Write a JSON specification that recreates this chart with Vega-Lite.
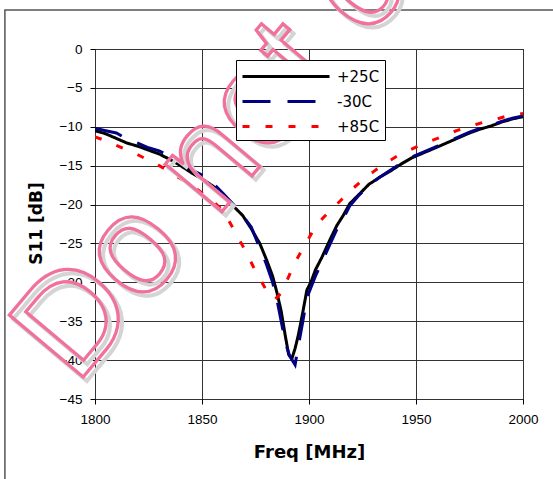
{
  "$schema": "https://vega.github.io/schema/vega-lite/v6.json",
  "width": 428,
  "height": 350,
  "autosize": "none",
  "padding": {"left": 95, "top": 49, "right": 30, "bottom": 80},
  "background": "white",
  "config": {"view": {"stroke": "#000000", "strokeWidth": 1}, "font": "Liberation Sans"},
  "resolve": {"axis": {"x": "independent", "y": "independent"}},
  "datasets": {
    "curves": [
      {"series":"+25C","f":1800,"s":-10.5},{"series":"+25C","f":1805,"s":-10.9},{"series":"+25C","f":1810,"s":-11.5},{"series":"+25C","f":1815,"s":-12.1},{"series":"+25C","f":1820,"s":-12.5},{"series":"+25C","f":1825,"s":-13.0},{"series":"+25C","f":1830,"s":-13.5},{"series":"+25C","f":1835,"s":-14.2},{"series":"+25C","f":1840,"s":-15.0},{"series":"+25C","f":1845,"s":-15.9},{"series":"+25C","f":1850,"s":-16.7},{"series":"+25C","f":1855,"s":-17.6},{"series":"+25C","f":1860,"s":-18.8},{"series":"+25C","f":1865,"s":-20.3},{"series":"+25C","f":1869,"s":-21.4},{"series":"+25C","f":1873,"s":-23.1},{"series":"+25C","f":1877,"s":-25.0},{"series":"+25C","f":1880,"s":-27.0},{"series":"+25C","f":1883,"s":-29.2},{"series":"+25C","f":1885,"s":-31.3},{"series":"+25C","f":1887,"s":-33.7},{"series":"+25C","f":1889,"s":-37.0},{"series":"+25C","f":1890.5,"s":-39.3},{"series":"+25C","f":1892,"s":-39.8},{"series":"+25C","f":1893.5,"s":-38.5},{"series":"+25C","f":1895,"s":-36.8},{"series":"+25C","f":1897,"s":-34.0},{"series":"+25C","f":1899,"s":-31.0},{"series":"+25C","f":1901,"s":-29.9},{"series":"+25C","f":1903,"s":-28.4},{"series":"+25C","f":1906,"s":-26.8},{"series":"+25C","f":1910,"s":-24.4},{"series":"+25C","f":1913,"s":-22.7},{"series":"+25C","f":1916,"s":-21.4},{"series":"+25C","f":1919,"s":-19.9},{"series":"+25C","f":1923,"s":-18.8},{"series":"+25C","f":1928,"s":-17.4},{"series":"+25C","f":1933,"s":-16.5},{"series":"+25C","f":1938,"s":-15.7},{"series":"+25C","f":1943,"s":-14.8},{"series":"+25C","f":1948,"s":-14.0},{"series":"+25C","f":1954,"s":-13.3},{"series":"+25C","f":1960,"s":-12.6},{"series":"+25C","f":1965,"s":-12.0},{"series":"+25C","f":1970,"s":-11.4},{"series":"+25C","f":1975,"s":-10.8},{"series":"+25C","f":1980,"s":-10.3},{"series":"+25C","f":1985,"s":-9.9},{"series":"+25C","f":1990,"s":-9.4},{"series":"+25C","f":1995,"s":-9.0},{"series":"+25C","f":2000,"s":-8.7},
      {"series":"-30C","f":1800,"s":-10.2},{"series":"-30C","f":1805,"s":-10.5},{"series":"-30C","f":1810,"s":-10.8},{"series":"-30C","f":1815,"s":-11.6},{"series":"-30C","f":1820,"s":-12.1},{"series":"-30C","f":1825,"s":-12.7},{"series":"-30C","f":1830,"s":-13.1},{"series":"-30C","f":1835,"s":-13.8},{"series":"-30C","f":1840,"s":-14.7},{"series":"-30C","f":1845,"s":-15.5},{"series":"-30C","f":1850,"s":-16.2},{"series":"-30C","f":1855,"s":-17.2},{"series":"-30C","f":1860,"s":-18.6},{"series":"-30C","f":1865,"s":-20.1},{"series":"-30C","f":1869,"s":-21.4},{"series":"-30C","f":1873,"s":-22.9},{"series":"-30C","f":1877,"s":-25.6},{"series":"-30C","f":1880,"s":-27.6},{"series":"-30C","f":1883,"s":-30.0},{"series":"-30C","f":1885,"s":-32.2},{"series":"-30C","f":1887,"s":-35.0},{"series":"-30C","f":1889,"s":-37.8},{"series":"-30C","f":1891,"s":-39.5},{"series":"-30C","f":1893.5,"s":-40.6},{"series":"-30C","f":1895,"s":-38.2},{"series":"-30C","f":1897,"s":-35.2},{"series":"-30C","f":1899,"s":-32.0},{"series":"-30C","f":1901,"s":-30.6},{"series":"-30C","f":1903,"s":-29.2},{"series":"-30C","f":1906,"s":-27.4},{"series":"-30C","f":1910,"s":-25.0},{"series":"-30C","f":1913,"s":-23.2},{"series":"-30C","f":1916,"s":-21.8},{"series":"-30C","f":1919,"s":-20.2},{"series":"-30C","f":1923,"s":-18.9},{"series":"-30C","f":1928,"s":-17.5},{"series":"-30C","f":1933,"s":-16.5},{"series":"-30C","f":1938,"s":-15.6},{"series":"-30C","f":1943,"s":-14.7},{"series":"-30C","f":1948,"s":-13.9},{"series":"-30C","f":1954,"s":-13.2},{"series":"-30C","f":1960,"s":-12.5},{"series":"-30C","f":1965,"s":-11.9},{"series":"-30C","f":1970,"s":-11.3},{"series":"-30C","f":1975,"s":-10.7},{"series":"-30C","f":1980,"s":-10.2},{"series":"-30C","f":1985,"s":-9.8},{"series":"-30C","f":1990,"s":-9.3},{"series":"-30C","f":1995,"s":-8.9},{"series":"-30C","f":2000,"s":-8.6},
      {"series":"+85C","f":1800,"s":-11.3},{"series":"+85C","f":1805,"s":-11.8},{"series":"+85C","f":1810,"s":-12.4},{"series":"+85C","f":1815,"s":-13.0},{"series":"+85C","f":1820,"s":-13.6},{"series":"+85C","f":1825,"s":-14.3},{"series":"+85C","f":1830,"s":-15.0},{"series":"+85C","f":1836,"s":-16.0},{"series":"+85C","f":1842,"s":-17.0},{"series":"+85C","f":1848,"s":-18.1},{"series":"+85C","f":1854,"s":-19.3},{"series":"+85C","f":1860,"s":-20.8},{"series":"+85C","f":1865,"s":-23.3},{"series":"+85C","f":1870,"s":-25.8},{"series":"+85C","f":1874,"s":-28.0},{"series":"+85C","f":1877,"s":-29.5},{"series":"+85C","f":1881,"s":-31.5},{"series":"+85C","f":1884,"s":-32.2},{"series":"+85C","f":1887,"s":-31.4},{"series":"+85C","f":1890,"s":-29.6},{"series":"+85C","f":1893,"s":-27.7},{"series":"+85C","f":1896,"s":-26.2},{"series":"+85C","f":1899,"s":-24.8},{"series":"+85C","f":1902,"s":-23.3},{"series":"+85C","f":1906,"s":-21.9},{"series":"+85C","f":1910,"s":-20.7},{"series":"+85C","f":1914,"s":-19.7},{"series":"+85C","f":1919,"s":-18.3},{"series":"+85C","f":1924,"s":-17.1},{"series":"+85C","f":1930,"s":-15.8},{"series":"+85C","f":1935,"s":-14.8},{"series":"+85C","f":1941,"s":-13.8},{"series":"+85C","f":1947,"s":-13.0},{"series":"+85C","f":1953,"s":-12.2},{"series":"+85C","f":1960,"s":-11.5},{"series":"+85C","f":1966,"s":-10.8},{"series":"+85C","f":1972,"s":-10.2},{"series":"+85C","f":1978,"s":-9.7},{"series":"+85C","f":1983,"s":-9.3},{"series":"+85C","f":1989,"s":-8.9},{"series":"+85C","f":1994,"s":-8.5},{"series":"+85C","f":2000,"s":-8.3}
    ],
    "one": [{"label": "Do not copy"}]
  },
  "layer": [
    {
      "data": {"name": "curves"},
      "mark": {"type": "line", "strokeWidth": 3, "clip": true},
      "encoding": {
        "x": {
          "field": "f", "type": "quantitative",
          "scale": {"domain": [1800, 2000], "nice": false, "zero": false},
          "axis": {
            "values": [1800, 1850, 1900, 1950, 2000], "format": "d", "grid": true, "gridColor": "#333333", "gridWidth": 1,
            "domain": false, "tickColor": "#000000", "tickSize": 5, "labelFont": "Liberation Sans", "labelFontSize": 13.5,
            "labelColor": "#000000", "labelPadding": 8, "labelFlush": false, "labelOverlap": false,
            "title": "Freq [MHz]", "titleFont": "DejaVu Sans", "titleFontSize": 18, "titleFontWeight": "bold",
            "titleColor": "#000000", "titleY": 53, "titleBaseline": "middle"
          }
        },
        "y": {
          "field": "s", "type": "quantitative",
          "scale": {"domain": [-45, 0], "nice": false, "zero": false},
          "axis": {
            "values": [-45, -40, -35, -30, -25, -20, -15, -10, -5, 0], "format": "d", "grid": true, "gridColor": "#333333", "gridWidth": 1,
            "domain": false, "tickColor": "#000000", "tickSize": 5, "labelFont": "Liberation Sans", "labelFontSize": 13.5,
            "labelColor": "#000000", "labelPadding": 8, "labelFlush": false, "labelOverlap": false,
            "title": "S11 [dB]", "titleFont": "DejaVu Sans", "titleFontSize": 17, "titleFontWeight": "bold",
            "titleColor": "#000000", "titleX": -59, "titleY": 174, "titleBaseline": "middle", "titleAngle": -90
          }
        },
        "color": {
          "field": "series", "type": "nominal",
          "scale": {"domain": ["+25C", "-30C", "+85C"], "range": ["#000000", "#000080", "#ff0000"]},
          "legend": {
            "orient": "none", "legendX": 141, "legendY": 11, "title": null,
            "strokeColor": "#000000", "fillColor": "#ffffff", "padding": 5,
            "symbolType": "M-1,0H7.7", "symbolSize": 400, "symbolStrokeWidth": 3,
            "labelFont": "DejaVu Sans", "labelFontSize": 15, "labelColor": "#000000",
            "labelOffset": 73, "rowPadding": 5
          }
        },
        "strokeDash": {
          "field": "series", "type": "nominal",
          "scale": {"domain": ["+25C", "-30C", "+85C"], "range": [[1, 0], [28, 17], [7, 16]]}
        }
      }
    },
    {
      "data": {"name": "one"},
      "mark": {"type": "rect", "fill": null, "stroke": "#555555", "strokeWidth": 1.5},
      "encoding": {
        "x": {"datum": 1757.9, "type": "quantitative", "axis": null},
        "x2": {"datum": 2040},
        "y": {"datum": 5.0, "type": "quantitative", "axis": null},
        "y2": {"datum": -65}
      }
    },
    {
      "data": {"name": "one"},
      "mark": {"type": "text", "angle": -50, "align": "left", "baseline": "alphabetic", "font": "Liberation Sans", "fontSize": 140, "fill": "transparent", "stroke": "#d4d4d4", "strokeWidth": 4, "dx": -0.5, "dy": 5.4},
      "encoding": {
        "x": {"datum": 1791.0, "type": "quantitative", "axis": null},
        "y": {"datum": -43.3, "type": "quantitative", "axis": null},
        "text": {"field": "label"}
      }
    },
    {
      "data": {"name": "one"},
      "mark": {"type": "text", "angle": -50, "align": "left", "baseline": "alphabetic", "font": "Liberation Sans", "fontSize": 140, "fill": "transparent", "stroke": "#f0719b", "strokeWidth": 3.3},
      "encoding": {
        "x": {"datum": 1791.0, "type": "quantitative", "axis": null},
        "y": {"datum": -43.3, "type": "quantitative", "axis": null},
        "text": {"field": "label"}
      }
    }
  ]
}
